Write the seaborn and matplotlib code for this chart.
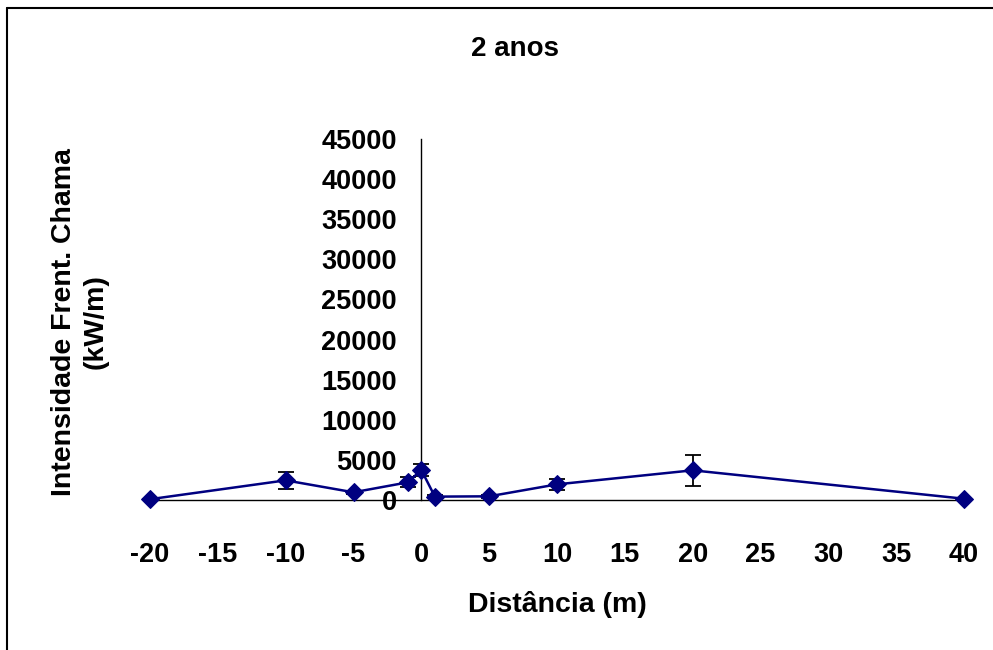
import matplotlib
matplotlib.use("Agg")
import matplotlib.pyplot as plt
from matplotlib.lines import Line2D
import seaborn as sns
import pandas as pd

# Fireline intensity by distance, 2-year plot
distancia = [-20, -10, -5, -1, 0, 1, 5, 10, 20, 40]
intensidade = [100, 2450, 960, 2200, 3740, 420, 460, 1950, 3700, 160]
erro = [0, 1100, 200, 640, 700, 150, 150, 650, 1900, 0]
x_ticks = [-20, -15, -10, -5, 0, 5, 10, 15, 20, 25, 30, 35, 40]
y_ticks = [0, 5000, 10000, 15000, 20000, 25000, 30000, 35000, 40000, 45000]

sns.set_theme(style="white")
plt.rcParams["font.family"] = ["Liberation Sans", "DejaVu Sans"]
plt.rcParams["font.weight"] = "bold"
plt.rcParams["text.color"] = "black"
plt.rcParams["xtick.color"] = "black"
plt.rcParams["ytick.color"] = "black"

df = pd.DataFrame({"Distância (m)": distancia, "Intensidade": intensidade, "erro": erro})

W, H = 993, 650
fig = plt.figure(figsize=(W / 100, H / 100), dpi=100)
ax = fig.add_axes([150 / W, (H - 500) / H, (964 - 150) / W, (500 - 139) / H])

ax.errorbar(df["Distância (m)"], df["Intensidade"], yerr=df["erro"], fmt="none",
            ecolor="black", elinewidth=1.3, capsize=6, capthick=1.3, zorder=2,
            clip_on=False)
sns.lineplot(data=df, x="Distância (m)", y="Intensidade", ax=ax, color="#000080",
             linewidth=1.8, marker="D", markersize=9.5, markeredgecolor="#000080",
             zorder=3, clip_on=False)

for s in ("top", "right"):
    ax.spines[s].set_visible(False)
ax.spines["left"].set_position(("data", 0))
ax.spines["left"].set_color("black")
ax.spines["bottom"].set_color("black")
ax.spines["left"].set_linewidth(1.0)
ax.spines["bottom"].set_linewidth(1.0)

ax.set_xlim(-20, 40)
ax.set_ylim(0, 45000)
ax.set_xticks(x_ticks)
ax.set_yticks(y_ticks)
ax.set_xticklabels([str(v) for v in x_ticks])
ax.set_yticklabels([str(v) for v in y_ticks])
ax.tick_params(axis="x", direction="out", length=7.5, width=1, color="#555555",
               pad=23, labelcolor="black", labelsize=19.5)
ax.tick_params(axis="y", direction="out", length=6.5, width=1, color="#555555",
               pad=11, labelcolor="black", labelsize=19.5)
for lbl in ax.get_xticklabels() + ax.get_yticklabels():
    lbl.set_fontweight("bold")
ax.set_xlabel("")
ax.set_ylabel("")

fig.text(515 / W, 1 - 49 / H, "2 anos", ha="center", va="center",
         fontsize=20, fontweight="bold")
fig.text(557 / W, 1 - 605 / H, "Distância (m)", ha="center", va="center",
         fontsize=20.5, fontweight="bold")
fig.text(80 / W, 1 - 322 / H, "Intensidade Frent. Chama\n(kW/m)", ha="center",
         va="center", rotation=90, fontsize=20.5, fontweight="bold", linespacing=1.3)

# outer chart frame (left and top edges)
fig.add_artist(Line2D([7 / W, 7 / W], [0, 1 - 8 / H], transform=fig.transFigure,
                      color="black", linewidth=1.5))
fig.add_artist(Line2D([7 / W, 1], [1 - 8 / H, 1 - 8 / H], transform=fig.transFigure,
                      color="black", linewidth=1.5))

fig.savefig("out.png", dpi=100)
